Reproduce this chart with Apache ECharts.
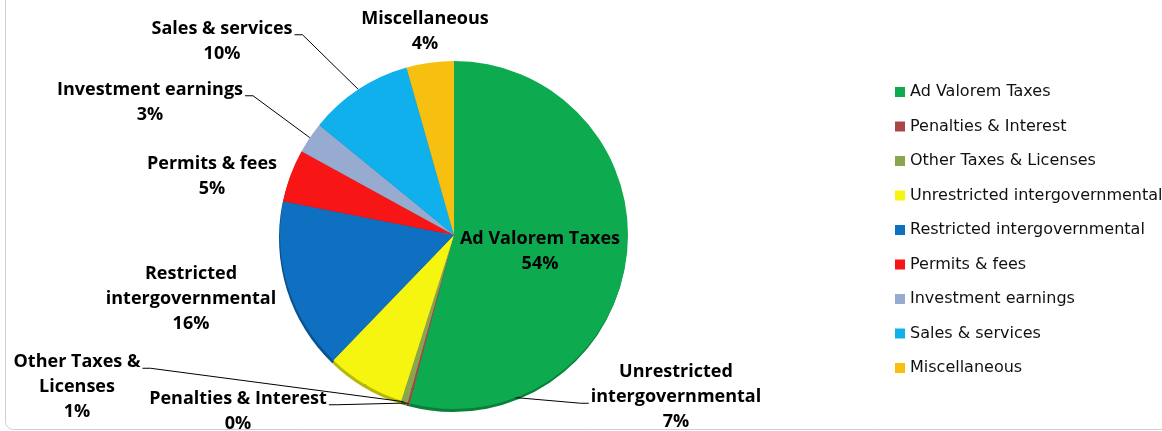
<!DOCTYPE html>
<html>
<head>
<meta charset="utf-8">
<script src="https://cdn.jsdelivr.net/npm/echarts@6/dist/echarts.min.js"></script>
<style>
html,body{margin:0;padding:0;background:#fff;}
#chart{width:1162px;height:431px;}
</style>
</head>
<body>
<div id="chart"></div>
<script>
// ---- data ----
const categories = [
  'Ad Valorem Taxes',
  'Penalties & Interest',
  'Other Taxes & Licenses',
  'Unrestricted intergovernmental',
  'Restricted intergovernmental',
  'Permits & fees',
  'Investment earnings',
  'Sales & services',
  'Miscellaneous'
];
const values = [54.1, 0.2, 0.6, 7.3, 15.9, 4.9, 2.9, 9.7, 4.4];
const labelTexts = [
  'Ad Valorem Taxes',
  'Penalties & Interest',
  'Other Taxes &\nLicenses',
  'Unrestricted\nintergovernmental',
  'Restricted\nintergovernmental',
  'Permits & fees',
  'Investment earnings',
  'Sales & services',
  'Miscellaneous'
];
// ---- style / layout ----
const colors = ['#0daa4f', '#aa4643', '#89a54e', '#f5f50f', '#0f6fc0', '#f81515', '#97aad0', '#10b0ec', '#f7bf10'];
const rimColors = ['#08803a', '#7d3230', '#66793a', '#b8b80b', '#0a5290', '#b80f0f', '#6f7f9c', '#0b82ae', '#b88f0c'];
const labelCenters = [
  [540, 250], [238, 410], [77, 386], [676, 396], [191, 298],
  [212, 175], [150, 101], [222, 40], [425, 30]
];
const showLeader = [false, true, true, true, false, false, true, true, false];
const LABEL_FONT = 'bold 18px "Open Sans"';
const LINE_H = 25;
const LEAD_H = 8;

const measureCtx = document.createElement('canvas').getContext('2d');
measureCtx.font = LABEL_FONT;
function widestLine(text) {
  const lines = text.split('\n');
  let best = 0, bw = -1;
  lines.forEach((l, i) => { const w = measureCtx.measureText(l).width; if (w > bw) { bw = w; best = i; } });
  return best;
}

const chart = echarts.init(document.getElementById('chart'), null, {renderer: 'canvas'});

const mainData = categories.map((c, i) => ({
  name: c,
  value: values[i],
  itemStyle: {color: colors[i]},
  label: {position: i === 0 ? 'inside' : 'outside'},
  labelLine: {show: showLeader[i]}
}));
const rimData = categories.map((c, i) => ({
  name: '_rim' + i,
  value: values[i],
  itemStyle: {color: rimColors[i]}
}));

chart.setOption({
  backgroundColor: '#fff',
  animation: false,
  graphic: [{
    type: 'rect',
    shape: {x: 5.5, y: -20, width: 1200, height: 449.5, r: 8},
    style: {fill: 'none', stroke: '#cfcfcf', lineWidth: 1},
    silent: true,
    z: -10
  }],
  legend: {
    orient: 'vertical',
    left: 890,
    top: 79,
    itemWidth: 10,
    itemHeight: 10,
    itemGap: 18.5,
    icon: 'rect',
    data: categories,
    textStyle: {fontFamily: 'DejaVu Sans', fontSize: 16, color: '#111', lineHeight: 16}
  },
  series: [
    {
      type: 'pie',
      name: 'rim',
      center: [453, 238],
      radius: 174,
      startAngle: 90,
      clockwise: true,
      silent: true,
      legendHoverLink: false,
      label: {show: false},
      labelLine: {show: false},
      data: rimData,
      z: 1
    },
    {
      type: 'pie',
      name: 'Revenue',
      center: [454, 235],
      radius: 174,
      startAngle: 90,
      clockwise: true,
      percentPrecision: 0,
      avoidLabelOverlap: false,
      itemStyle: {borderWidth: 0},
      label: {
        show: true,
        fontFamily: 'Open Sans',
        fontWeight: 'bold',
        fontSize: 18,
        lineHeight: LINE_H,
        color: '#000',
        align: 'center',
        formatter: p => labelTexts[p.dataIndex] + '\n' + p.percent + '%'
      },
      labelLine: {show: true, length: 10, length2: 10, lineStyle: {color: '#000', width: 1}},
      labelLayout: function (params) {
        const i = params.dataIndex;
        const c = labelCenters[i];
        const out = {x: c[0], y: c[1] + 1, align: 'center', verticalAlign: 'middle'};
        if (showLeader[i] && params.labelLinePoints) {
          const p0 = params.labelLinePoints[0];
          const text = labelTexts[i] + '\n0%';
          const nLines = text.split('\n').length;
          const k = widestLine(text);
          const w = params.labelRect.width;
          const top = c[1] + 1 - nLines * LINE_H / 2;
          const ay = top + (k + 0.75) * LINE_H;
          const rightSide = p0[0] > c[0];
          const ax = rightSide ? c[0] + w / 2 + 2 : c[0] - w / 2 - 2;
          const bx = rightSide ? ax + LEAD_H : ax - LEAD_H;
          out.labelLinePoints = [[p0[0], p0[1]], [bx, ay], [ax, ay]];
        }
        return out;
      },
      data: mainData,
      z: 2
    }
  ]
});
</script>
</body>
</html>
